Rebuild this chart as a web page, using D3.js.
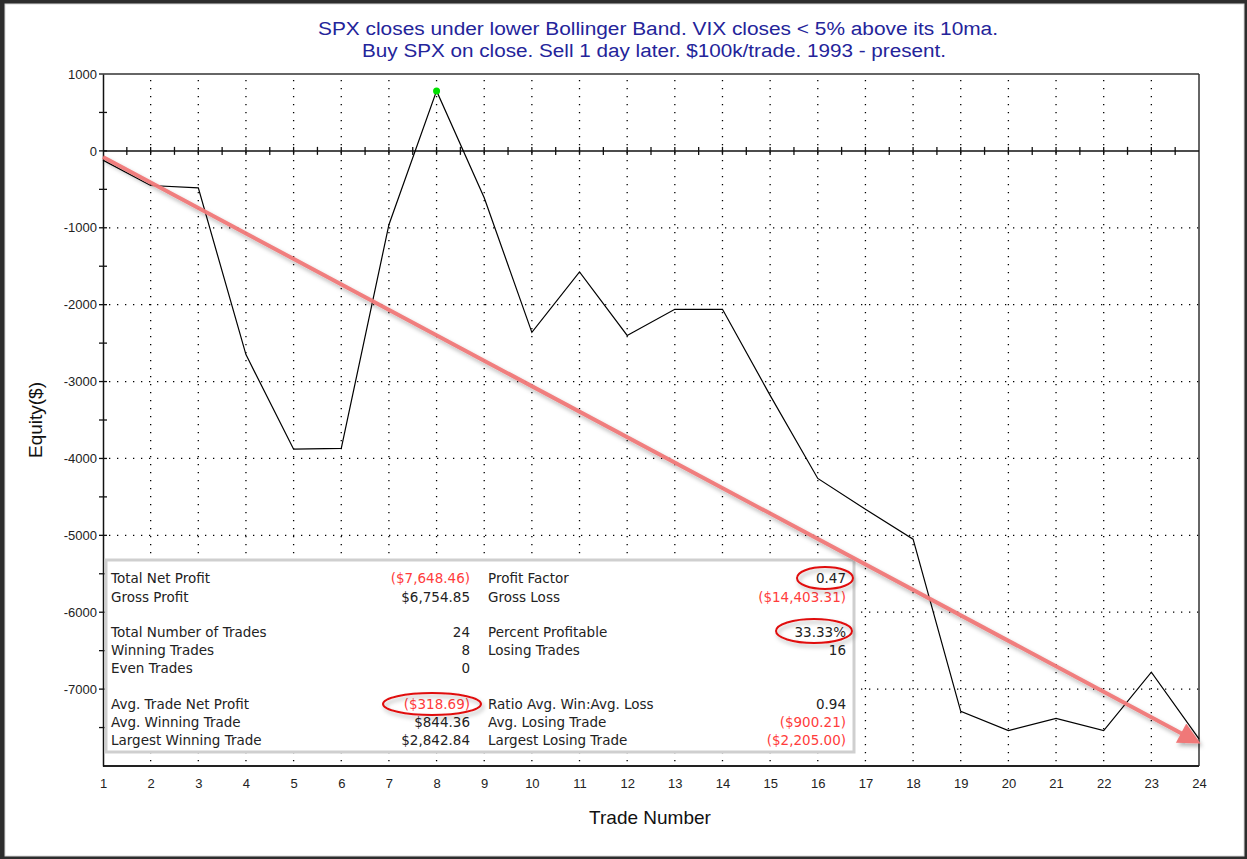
<!DOCTYPE html>
<html>
<head>
<meta charset="utf-8">
<script src="https://cdn.jsdelivr.net/npm/d3@7"></script>
<style>
  html, body { margin: 0; padding: 0; background: #2d2d2d; }
  svg { display: block; }
</style>
</head>
<body>
<div id="chart"></div>
<script>
// trade-by-trade cumulative equity
const trades = d3.range(1, 25);
const equity = [-120, -450, -480, -2650, -3880, -3870, -960, 780, -610, -2360,
                -1575, -2400, -2060, -2060, -3180, -4260, -4660, -5050, -7290, -7540,
                -7380, -7540, -6780, -7648];

const yTicks = [1000, 0, -1000, -2000, -3000, -4000, -5000, -6000, -7000];
const titleLines = [
  'SPX closes under lower Bollinger Band. VIX closes < 5% above its 10ma.',
  'Buy SPX on close. Sell 1 day later. $100k/trade. 1993 - present.'
];

// trend arrow drawn by hand on top of the chart (trade, equity)
const arrowFrom = [1, -80];
const arrowTo = [23.95, -7680];

// performance summary, rows with null are blank spacer lines
const leftLabels = ['Total Net Profit', 'Gross Profit', null, 'Total Number of Trades', 'Winning Trades', 'Even Trades', null, 'Avg. Trade Net Profit', 'Avg. Winning Trade', 'Largest Winning Trade'];
const leftValues = ['($7,648.46)', '$6,754.85', null, '24', '8', '0', null, '($318.69)', '$844.36', '$2,842.84'];
const rightLabels = ['Profit Factor', 'Gross Loss', null, 'Percent Profitable', 'Losing Trades', null, null, 'Ratio Avg. Win:Avg. Loss', 'Avg. Losing Trade', 'Largest Losing Trade'];
const rightValues = ['0.47', '($14,403.31)', null, '33.33%', '16', null, null, '0.94', '($900.21)', '($2,205.00)'];

const W = 1247, H = 859;
const svg = d3.select('#chart').append('svg').attr('width', W).attr('height', H);

const defs = svg.append('defs');
defs.append('filter').attr('id', 'shadow')
  .attr('x', '-20%').attr('y', '-20%').attr('width', '140%').attr('height', '160%')
  .append('feDropShadow')
  .attr('dx', 2).attr('dy', 3).attr('stdDeviation', 2)
  .attr('flood-color', '#000').attr('flood-opacity', 0.3);
defs.append('marker').attr('id', 'head')
  .attr('viewBox', '0 0 10 10').attr('refX', 8).attr('refY', 5)
  .attr('markerWidth', 7).attr('markerHeight', 5.5).attr('orient', 'auto')
  .attr('markerUnits', 'strokeWidth')
  .append('path').attr('d', 'M0,0 L10,5 L0,10 z').attr('fill', '#f07878');

// window frame
svg.append('rect').attr('x', 5).attr('y', 4).attr('width', 1239).attr('height', 852)
  .attr('fill', '#fff').attr('stroke', '#d8d8d8').attr('stroke-width', 1);

const x = d3.scaleLinear().domain([1, 24]).range([103, 1199]);
const y = d3.scaleLinear().domain([-8000, 1000]).range([766, 74]);

// title
const titleWidths = [680, 584];
svg.append('g').selectAll('text').data(titleLines).enter().append('text')
  .attr('x', (d, i) => i ? 654 : 658).attr('y', (d, i) => 35 + i * 22)
  .attr('text-anchor', 'middle')
  .attr('textLength', (d, i) => titleWidths[i]).attr('lengthAdjust', 'spacingAndGlyphs')
  .style('font-family', '"Liberation Sans", Arial, sans-serif')
  .style('font-size', '18px').style('fill', '#24249a')
  .text(d => d);

// dotted grid
const grid = svg.append('g');
grid.selectAll('.vg').data(trades.slice(1, -1)).enter().append('line')
  .attr('x1', d => x(d)).attr('x2', d => x(d))
  .attr('y1', y(1000) + 6).attr('y2', y(-8000))
  .attr('stroke', '#000').attr('stroke-width', 1.3).attr('stroke-dasharray', '1.3,6.7');
grid.selectAll('.hg').data(yTicks.filter(d => d < 0)).enter().append('line')
  .attr('x1', x(1) + 6).attr('x2', x(24))
  .attr('y1', d => y(d)).attr('y2', d => y(d))
  .attr('stroke', '#000').attr('stroke-width', 1.3).attr('stroke-dasharray', '1.3,6.7');

// plot box
svg.append('line').attr('x1', x(1)).attr('x2', x(24)).attr('y1', y(1000)).attr('y2', y(1000))
  .attr('stroke', '#333').attr('stroke-width', 1.5);
svg.append('line').attr('x1', x(24)).attr('x2', x(24)).attr('y1', y(1000)).attr('y2', y(-8000))
  .attr('stroke', '#333').attr('stroke-width', 1.5);
svg.append('line').attr('x1', x(1)).attr('x2', x(24)).attr('y1', y(-8000)).attr('y2', y(-8000))
  .attr('stroke', '#222').attr('stroke-width', 2);

// zero line with half-trade ticks
svg.append('line').attr('x1', x(1)).attr('x2', x(24)).attr('y1', y(0)).attr('y2', y(0))
  .attr('stroke', '#111').attr('stroke-width', 1.5);
svg.append('g').selectAll('line').data(d3.range(1.5, 24, 0.5)).enter().append('line')
  .attr('x1', d => x(d)).attr('x2', d => x(d))
  .attr('y1', y(0) - 4).attr('y2', y(0) + 4)
  .attr('stroke', '#111').attr('stroke-width', 1.3);

// left axis
const yAxis = d3.axisLeft(y).tickValues(yTicks).tickSize(0).tickPadding(6).tickFormat(d => String(d));
const ya = svg.append('g').attr('transform', `translate(${x(1)},0)`).call(yAxis);
ya.select('.domain').attr('stroke', '#111').attr('stroke-width', 1.5);
ya.selectAll('text')
  .style('font-family', '"Liberation Sans", Arial, sans-serif')
  .style('font-size', '13px').style('fill', '#222');
svg.append('g').selectAll('line').data(d3.range(-8000, 1001, 500).filter(d => d > -8000)).enter().append('line')
  .attr('x1', d => x(1) - 4).attr('x2', d => d === 1000 ? x(1) : x(1) + 4)
  .attr('y1', d => y(d)).attr('y2', d => y(d))
  .attr('stroke', '#111').attr('stroke-width', 1.3);

// bottom axis labels
const xAxis = d3.axisBottom(x).tickValues(trades).tickSize(0).tickPadding(13).tickFormat(d => String(d));
const xa = svg.append('g').attr('transform', `translate(0,${y(-8000)})`).call(xAxis);
xa.select('.domain').remove();
xa.selectAll('text')
  .style('font-family', '"Liberation Sans", Arial, sans-serif')
  .style('font-size', '13px').style('fill', '#222');

// axis titles
svg.append('text').attr('x', 650).attr('y', 824).attr('text-anchor', 'middle')
  .style('font-family', '"Liberation Sans", Arial, sans-serif').style('font-size', '19px').style('fill', '#111')
  .text('Trade Number');
svg.append('text').attr('transform', 'translate(42,420) rotate(-90)').attr('text-anchor', 'middle')
  .style('font-family', '"Liberation Sans", Arial, sans-serif').style('font-size', '19px').style('fill', '#111')
  .text('Equity($)');

// equity curve
const line = d3.line().x((d, i) => x(trades[i])).y(d => y(d));
svg.append('path').datum(equity).attr('d', line)
  .attr('fill', 'none').attr('stroke', '#000').attr('stroke-width', 1.2);

// highest equity point
const iMax = d3.maxIndex(equity);
svg.append('circle').attr('cx', x(trades[iMax])).attr('cy', y(equity[iMax])).attr('r', 3.5)
  .attr('fill', '#00e000');

// summary box
const box = svg.append('g');
box.append('rect').attr('x', 106).attr('y', 560).attr('width', 748).attr('height', 192)
  .attr('fill', '#fff').attr('stroke', '#cfcfcf').attr('stroke-width', 3);

const rowY = [583, 602, null, 637, 655, 673, null, 709, 727, 745];
const textStyle = sel => sel
  .style('font-family', '"DejaVu Sans", Verdana, sans-serif')
  .style('font-size', '13.5px');
const isRed = v => v && v.startsWith('(');

function column(labels, values, labelX, valueX) {
  labels.forEach((t, i) => {
    if (t) box.append('text').attr('x', labelX).attr('y', rowY[i]).call(textStyle)
      .style('fill', '#222').text(t);
    const v = values[i];
    if (v) box.append('text').attr('x', valueX).attr('y', rowY[i]).attr('text-anchor', 'end')
      .call(textStyle).style('fill', isRed(v) ? '#ff3c3c' : '#222').text(v);
  });
}
column(leftLabels, leftValues, 111, 470);
column(rightLabels, rightValues, 488, 846);

// hand drawn highlight ellipses
const rings = [[432, 704, 49, 11], [825, 578, 28, 11], [814, 631, 38, 12]];
svg.append('g').selectAll('ellipse').data(rings).enter().append('ellipse')
  .attr('cx', d => d[0]).attr('cy', d => d[1]).attr('rx', d => d[2]).attr('ry', d => d[3])
  .attr('fill', 'none').attr('stroke', '#e01010').attr('stroke-width', 2)
  .attr('filter', 'url(#shadow)');

// trend arrow
svg.append('line')
  .attr('x1', x(arrowFrom[0])).attr('y1', y(arrowFrom[1]))
  .attr('x2', x(arrowTo[0])).attr('y2', y(arrowTo[1]))
  .attr('stroke', '#f07878').attr('stroke-width', 4).attr('stroke-opacity', 0.95)
  .attr('marker-end', 'url(#head)')
  .attr('filter', 'url(#shadow)');
</script>
</body>
</html>
